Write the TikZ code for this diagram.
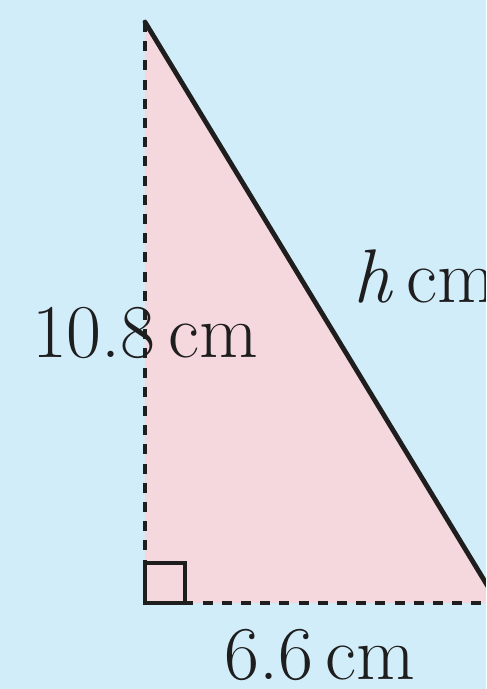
\documentclass[tikz,border=0pt]{standalone}
\usepackage{amsmath, amssymb}
\usepackage{xcolor}
\usepackage{tikz}
\usetikzlibrary{calc, positioning}

\definecolor{nenxanh}{RGB}{210,237,250}
\definecolor{tamgiachong}{RGB}{245,216,221}
\definecolor{chuden}{RGB}{30,30,30}

\tikzset{
    canh/.style={line width=1.2pt, line cap=round, chuden},
    canhdut/.style={line width=1.1pt, dash pattern=on 2.5pt off 2.3pt, chuden},
    nhan/.style={font=\fontsize{19}{21}\selectfont, inner sep=0pt, text=chuden}
}

\begin{document}
\begin{tikzpicture}[x=0.25pt, y=-0.25pt]

    % 1. Nền và khung hình
    \fill[nenxanh] (0,0) rectangle (486,689);
    \useasboundingbox (0,0) rectangle (486,689);
    \clip (0,0) rectangle (486,689);

    % 2. Các đỉnh tam giác
    \coordinate (A) at (145,22);
    \coordinate (B) at (145,603);
    \coordinate (C) at (498,603);

    % 3. Tô tam giác
    \fill[tamgiachong] (A) -- (B) -- (C) -- cycle;

    % 4. Các cạnh
    \draw[canhdut] (A) -- (B);
    \draw[canhdut] (B) -- (C);
    \draw[canh] (A) -- (C);

    % 5. Ký hiệu góc vuông
    \draw[line width=1pt, chuden] (B) rectangle ($(B)+(40,-40)$);

    % 6. Nhãn độ dài
    \node[nhan, anchor=base] (canhdung) at (145,357) {10.8\,cm};
    \node[nhan, anchor=base] (canhday) at (320,679) {6.6\,cm};
    \node[nhan, anchor=base west] (canhhuyen) at (353,302) {\textit{h}\,cm};
\end{tikzpicture}
\end{document}
